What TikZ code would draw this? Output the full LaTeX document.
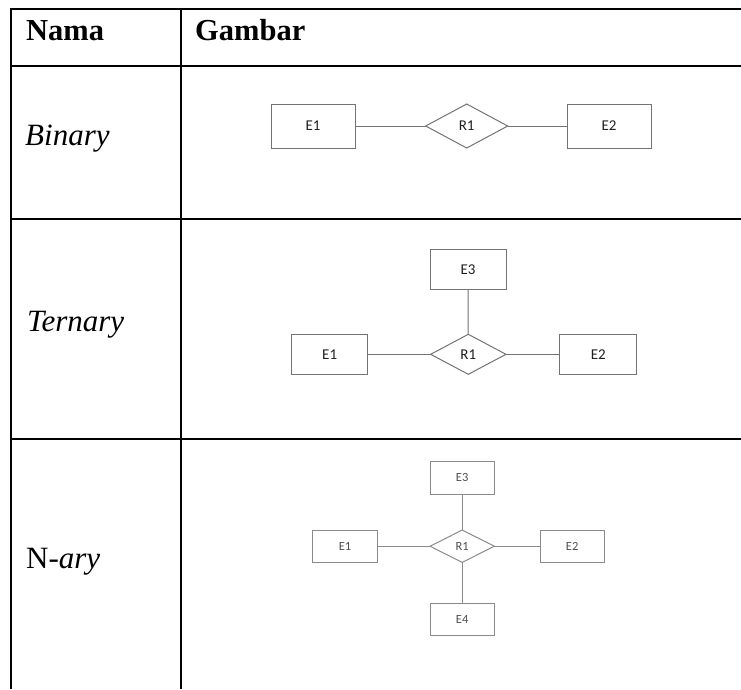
\documentclass[tikz,border=0pt]{standalone}
\usepackage{fontspec}
\setmainfont{Liberation Serif}
\newfontfamily\calibri{Carlito}
\usetikzlibrary{shapes.geometric}
\definecolor{erline}{HTML}{737373}
\definecolor{ertext}{HTML}{1F1F1F}
\definecolor{erlight}{HTML}{8A8A8A}
\definecolor{ertextlight}{HTML}{4D4D4D}
\tikzset{
  grid/.style={line width=2pt, black},
  headtext/.style={anchor=base west, inner sep=0pt, font=\fontsize{30.5}{35}\selectfont\bfseries},
  rowtext/.style={anchor=base west, inner sep=0pt, font=\fontsize{31}{36}\selectfont},
  entA/.style={draw=erline, line width=1pt, rectangle, inner sep=0pt, outer sep=0pt, text=ertext, font=\calibri\fontsize{15}{18}\selectfont},
  relA/.style={draw=erline, line width=1pt, diamond, inner sep=0pt, outer sep=0pt, text=ertext, font=\calibri\fontsize{15}{18}\selectfont},
  linkA/.style={draw=erline, line width=1pt},
  entB/.style={draw=erlight, line width=1pt, rectangle, inner sep=0pt, outer sep=0pt, text=ertextlight, font=\calibri\fontsize{12.5}{15}\selectfont, minimum width=64.3pt, minimum height=32.3pt},
  relB/.style={draw=erlight, line width=1pt, diamond, inner sep=0pt, outer sep=0pt, text=ertextlight, font=\calibri\fontsize{12.5}{15}\selectfont, minimum width=64.3pt, minimum height=32.3pt},
  linkB/.style={draw=erlight, line width=1pt},
}
\begin{document}
\begin{tikzpicture}[x=1pt,y=-1pt]
\useasboundingbox (0,0) rectangle (741,689);
% table grid
\draw[grid] (11,8.5) -- (741,8.5);
\draw[grid] (11,65.7) -- (741,65.7);
\draw[grid] (11,219) -- (741,219);
\draw[grid] (11,439) -- (741,439);
\draw[grid] (11,7.5) -- (11,689);
\draw[grid] (181,7.5) -- (181,689);
% headers
\node[headtext] (hnama) at (26,40.7) {Nama};
\node[headtext] (hgambar) at (195,40.7) {Gambar};
% row labels
\node[rowtext] (lbin) at (25,145.5) {\itshape Binary};
\node[rowtext] (lter) at (27,331.7) {\itshape Ternary};
\node[rowtext] (lnary) at (26,568) {N-\textit{ary}};
% Binary
\node[entA, minimum width=84pt, minimum height=44pt] (bE1) at (313,126) {E1};
\node[relA, minimum width=82pt, minimum height=44pt] (bR1) at (466.7,126) {R1};
\node[entA, minimum width=84pt, minimum height=44pt] (bE2) at (609,126) {E2};
\draw[linkA] (bE1) -- (bR1);
\draw[linkA] (bR1) -- (bE2);
% Ternary
\node[entA, minimum width=76pt, minimum height=40pt] (tE3) at (468,269.3) {E3};
\node[relA, minimum width=75.3pt, minimum height=40pt] (tR1) at (468.3,354.3) {R1};
\node[entA, minimum width=76pt, minimum height=40pt] (tE1) at (329.7,354.3) {E1};
\node[entA, minimum width=76.7pt, minimum height=40pt] (tE2) at (598.3,354.3) {E2};
\draw[linkA] (tE1) -- (tR1);
\draw[linkA] (tR1) -- (tE2);
\draw[linkA] (tE3) -- (tR1);
% N-ary
\node[entB] (nE3) at (462.2,477.9) {E3};
\node[relB] (nR1) at (462.2,546.2) {R1};
\node[entB] (nE1) at (345,546.2) {E1};
\node[entB] (nE2) at (572.2,546.2) {E2};
\node[entB] (nE4) at (462.2,619.5) {E4};
\draw[linkB] (nE1) -- (nR1);
\draw[linkB] (nR1) -- (nE2);
\draw[linkB] (nE3) -- (nR1);
\draw[linkB] (nR1) -- (nE4);
\end{tikzpicture}
\end{document}
